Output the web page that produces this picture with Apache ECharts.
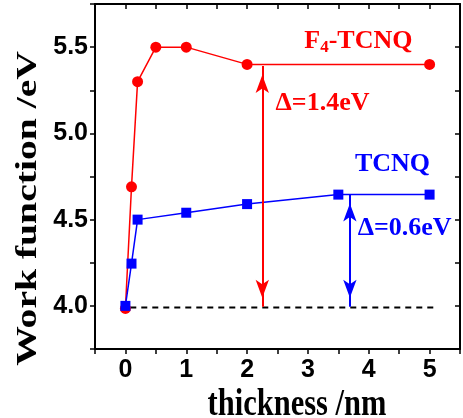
<!DOCTYPE html>
<html><head><meta charset="utf-8">
<script src="https://cdn.jsdelivr.net/npm/echarts/dist/echarts.min.js"></script>
<style>html,body{margin:0;padding:0;background:#fff}#c{width:463px;height:418px}</style>
</head><body><div id="c"></div>
<script>
// ---- data ----
const f4Thickness = [0, 0.1, 0.2, 0.5, 1, 2, 5];
const f4WorkFunction = [3.985, 4.69, 5.3, 5.5, 5.5, 5.4, 5.4];
const tcnqThickness = [0, 0.1, 0.2, 1, 2, 3.5, 5];
const tcnqWorkFunction = [4.0, 4.245, 4.5, 4.54, 4.59, 4.645, 4.645];
const baselineValue = 3.99;
const baselineRange = [0.08, 5.12];
const f4DeltaX = 2.25, f4DeltaRange = [5.39, 3.995];
const tcnqDeltaX = 3.69, tcnqDeltaRange = [4.645, 3.995];
const xTickLabels = [0, 1, 2, 3, 4, 5];
const yTickLabels = [4.0, 4.5, 5.0, 5.5];
const xTitle = 'thickness /nm';
const yTitle = 'Work function /eV';

const RED = '#ff0000', BLUE = '#0000ff';
const pairs = (xs, ys) => xs.map((x, i) => [x, ys[i]]);
const isTick = (arr, v) => arr.some(t => Math.abs(t - v) < 1e-6);

const axisCommon = {
  type: 'value',
  axisLine: { show: true, onZero: false, lineStyle: { color: '#000', width: 2 } },
  splitLine: { show: false },
};
const arrowLine = (x, range, color) => ({
  silent: true, animation: false,
  symbol: ['arrow', 'arrow'], symbolSize: [10, 18], symbolOffset: [[0, 9], [0, 9]],
  label: { show: false },
  lineStyle: { color: color, width: 2, type: 'solid' },
  emphasis: { disabled: true },
  data: [[{ coord: [x, range[0]] }, { coord: [x, range[1]] }]]
});

const option = {
  animation: false,
  backgroundColor: '#fff',
  grid: { left: 95, top: 4, width: 370, height: 345, containLabel: false },
  xAxis: [
    Object.assign({}, axisCommon, {
      position: 'bottom', min: -0.5, max: 5.5, interval: 0.5,
      axisTick: { show: true, inside: false, length: 5, lineStyle: { color: '#000', width: 1.5 } },
      axisLabel: {
        margin: 9, color: '#000', fontSize: 25, fontWeight: 'bold', fontFamily: 'Liberation Sans',
        formatter: v => isTick(xTickLabels, v) ? String(Math.round(v)) : ''
      }
    }),
    Object.assign({}, axisCommon, {
      position: 'top', min: -0.5, max: 5.5, interval: 0.5,
      axisTick: { show: true, inside: true, length: 5, lineStyle: { color: '#000', width: 1.5 } },
      axisLabel: { show: false }
    })
  ],
  yAxis: [
    Object.assign({}, axisCommon, {
      position: 'left', min: 3.75, max: 5.75, interval: 0.25,
      axisTick: { show: true, inside: false, length: 5, lineStyle: { color: '#000', width: 1.5 } },
      axisLabel: {
        margin: 7, color: '#000', fontSize: 25, fontWeight: 'bold', fontFamily: 'Liberation Sans',
        formatter: v => isTick(yTickLabels, v) ? v.toFixed(1) : ''
      }
    }),
    Object.assign({}, axisCommon, {
      position: 'right', min: 3.75, max: 5.75, interval: 0.25,
      axisTick: { show: true, inside: true, length: 5, lineStyle: { color: '#000', width: 1.5 } },
      axisLabel: { show: false }
    })
  ],
  series: [
    {
      name: 'baseline', type: 'line', silent: true, symbol: 'none',
      data: baselineRange.map(x => [x, baselineValue]),
      lineStyle: { color: '#000', width: 2, type: [6, 5] }
    },
    {
      name: 'F4-TCNQ', type: 'line', symbol: 'circle', symbolSize: 11,
      data: pairs(f4Thickness, f4WorkFunction),
      lineStyle: { color: RED, width: 1.5 }, itemStyle: { color: RED },
      markLine: arrowLine(f4DeltaX, f4DeltaRange, RED)
    },
    {
      name: 'TCNQ', type: 'line', symbol: 'rect', symbolSize: 10,
      data: pairs(tcnqThickness, tcnqWorkFunction),
      lineStyle: { color: BLUE, width: 1.5 }, itemStyle: { color: BLUE },
      markLine: arrowLine(tcnqDeltaX, tcnqDeltaRange, BLUE)
    }
  ]
};

const chart = echarts.init(document.getElementById('c'), null, { renderer: 'canvas' });
chart.setOption(option);

// annotation anchors in data coordinates
const annotations = [
  { text: '{n|F}{s|4}{n|-TCNQ}', at: [3.83, 5.535], color: RED },
  { text: '{n|Δ=1.4eV}', at: [3.24, 5.174], color: RED },
  { text: '{n|TCNQ}', at: [4.39, 4.82], color: BLUE },
  { text: '{n|Δ=0.6eV}', at: [4.59, 4.448], color: BLUE }
];
const serif = 'Liberation Serif';
const graphics = annotations.map(a => {
  const p = chart.convertToPixel({ seriesIndex: 1 }, a.at);
  return {
    type: 'text', x: p[0], y: p[1], silent: true, z: 10,
    style: {
      text: a.text, fill: a.color, align: 'center', verticalAlign: 'middle',
      rich: {
        n: { fontFamily: serif, fontWeight: 'bold', fontSize: 26, lineHeight: 30, fill: a.color },
        s: { fontFamily: serif, fontWeight: 'bold', fontSize: 17, lineHeight: 16, verticalAlign: 'bottom', fill: a.color }
      }
    }
  };
});
graphics.push({
  type: 'text', x: 28, y: 208.5, rotation: Math.PI / 2, scaleX: 1.32, silent: true,
  style: { text: yTitle, fill: '#000', align: 'center', verticalAlign: 'middle',
    font: 'bold 30px "Liberation Serif"' }
});
graphics.push({
  type: 'text', x: 297, y: 405, scaleY: 1.26, silent: true,
  style: { text: xTitle, fill: '#000', align: 'center', verticalAlign: 'middle',
    font: 'bold 30.5px "Liberation Serif"' }
});
chart.setOption({ graphic: graphics });
</script>
</body></html>
